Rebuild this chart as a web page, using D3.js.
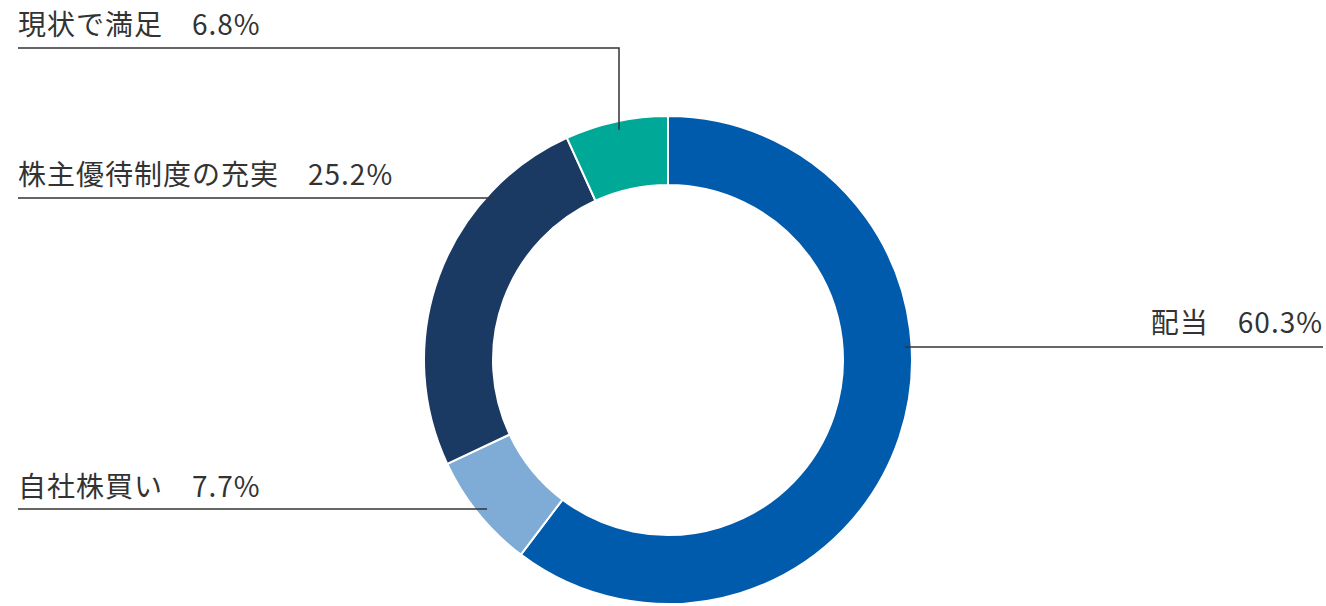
<!DOCTYPE html>
<html><head><meta charset="utf-8">
<script src="https://cdn.jsdelivr.net/npm/d3@7"></script>
<style>body{margin:0;background:#fff}text{font-family:"Noto Sans CJK JP","Noto Sans",sans-serif;fill:#333;font-size:28px;letter-spacing:1px}</style>
</head><body><svg id="c" width="1326" height="606"></svg>
<script>
const categories=["配当","自社株買い","株主優待制度の充実","現状で満足"];
const values=[60.3,7.7,25.2,6.8];
const colors=["#005BAC","#7FACD6","#1B3A63","#00A997"];
const svg=d3.select("#c");
const cx=668,cy=360,R=244,r=175;
const pie=d3.pie().sort(null).value(d=>d)(values);
const arc=d3.arc().innerRadius(r).outerRadius(R);
const g=svg.append("g").attr("transform",`translate(${cx},${cy})`);
g.selectAll("path").data(pie).join("path").attr("d",arc).attr("fill",(d,i)=>colors[i]).attr("stroke","#fff").attr("stroke-width",2);
const lab=[
 {t:"配当　60.3%",x:1323,y:333,a:"end",line:[[905,347],[1323,347]]},
 {t:"自社株買い　7.7%",x:18,y:497,a:"start",line:[[18,509],[487,509]]},
 {t:"株主優待制度の充実　25.2%",x:18,y:185,a:"start",line:[[18,198],[493,198]]},
 {t:"現状で満足　6.8%",x:18,y:35,a:"start",line:[[18,48],[619,48],[619,130]]}
];
lab.forEach(l=>{
 svg.append("text").attr("x",l.x).attr("y",l.y).attr("text-anchor",l.a).text(l.t);
 svg.append("path").attr("d",d3.line()(l.line)).attr("fill","none").attr("stroke","#333").attr("stroke-width",1.5);
});
</script></body></html>
